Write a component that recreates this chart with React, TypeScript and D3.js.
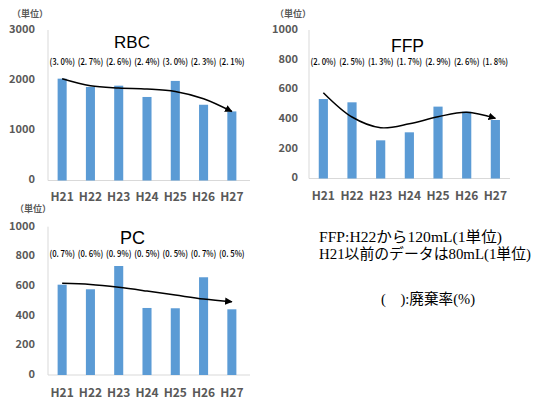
import React from "react";
import * as d3 from "d3";

const years = ["H21", "H22", "H23", "H24", "H25", "H26", "H27"];

const rbcUnits = [2030, 1865, 1890, 1665, 1985, 1510, 1377];
const rbcRates = ["(3. 0%)", "(2. 7%)", "(2. 6%)", "(2. 4%)", "(3. 0%)", "(2. 3%)", "(2. 1%)"];
const rbcTrend = [2030, 1890, 1845, 1825, 1775, 1630, 1375];
const rbcTicks = [0, 1000, 2000, 3000];

const ffpUnits = [535, 513, 257, 311, 484, 450, 394];
const ffpRates = ["(2. 0%)", "(2. 5%)", "(1. 3%)", "(1. 7%)", "(2. 9%)", "(2. 6%)", "(1. 8%)"];
const ffpTrend = [578, 414, 342, 368, 416, 446, 405];
const ffpTicks = [0, 200, 400, 600, 800, 1000];

const pcUnits = [609, 578, 735, 452, 450, 659, 443];
const pcRates = ["(0. 7%)", "(0. 6%)", "(0. 9%)", "(0. 5%)", "(0. 5%)", "(0. 7%)", "(0. 5%)"];
const pcTrend = [618, 610, 591, 566, 539, 512, 494];
const pcTicks = [0, 200, 400, 600, 800, 1000];

const noteLines = ["FFP:H22から120mL(1単位)", "H21以前のデータは80mL(1単位)"];
const noteWidths = [183, 212];
const rateNote = "(\u3000):廃棄率(%)";

const BAR = "#5B9BD5";
const AXIS = "#D9D9D9";
const TICK = "#595959";
const JP = "'Noto Sans CJK JP', 'Noto Sans', sans-serif";
const SANS = "'Liberation Sans', Arial, sans-serif";
const NOTE = "'Liberation Serif', 'Noto Sans CJK JP', serif";

interface PanelProps {
  id: string;
  title: string;
  units: number[];
  rates: string[];
  trend: number[];
  ticks: number[];
  x0: number;
  x1: number;
  axisRight: number;
  yTop: number;
  yBottom: number;
  tickEnd: number;
  titleX: number;
  titleY: number;
  titleSize: number;
  rateY: number;
  labelY: number;
  unitX: number;
  unitY: number;
}

function Panel(p: PanelProps) {
  const x = d3
    .scaleBand<string>()
    .domain(years)
    .range([p.x0, p.x1])
    .paddingInner(0.68)
    .paddingOuter(0.34);
  const y = d3
    .scaleLinear()
    .domain([0, p.ticks[p.ticks.length - 1]])
    .range([p.yBottom, p.yTop]);
  const cx = (d: string) => (x(d) as number) + x.bandwidth() / 2;
  const line = d3
    .line<number>()
    .x((_, i) => cx(years[i]))
    .y((v) => y(v))
    .curve(d3.curveCatmullRom.alpha(0.5));
  const left = p.x0;

  return (
    <g>
      <text x={p.unitX} y={p.unitY} fontFamily={JP} fontSize={9} fontWeight="bold" fill={TICK} dominantBaseline="middle">
        （単位）
      </text>
      <line x1={left} x2={left} y1={p.yTop} y2={p.yBottom} stroke={AXIS} strokeWidth={1} />
      <line x1={left} x2={p.axisRight} y1={p.yBottom} y2={p.yBottom} stroke={AXIS} strokeWidth={1} />
      {p.ticks.map((t) => (
        <text
          key={t}
          x={p.tickEnd}
          y={y(t)}
          textAnchor="end"
          dominantBaseline="middle"
          fontFamily={JP}
          fontSize={11}
          fontWeight="bold"
          fill={TICK}
        >
          {t}
        </text>
      ))}
      {years.map((yr, i) => (
        <rect
          key={yr}
          x={x(yr)}
          y={y(p.units[i])}
          width={x.bandwidth()}
          height={p.yBottom - y(p.units[i])}
          fill={BAR}
        />
      ))}
      {years.map((yr) => (
        <text
          key={yr}
          x={cx(yr)}
          y={p.labelY}
          textAnchor="middle"
          fontFamily={JP}
          fontSize={12}
          fontWeight="bold"
          fill={TICK}
        >
          {yr}
        </text>
      ))}
      <text x={p.titleX} y={p.titleY} textAnchor="middle" fontFamily={SANS} fontSize={p.titleSize} fill="#000">
        {p.title}
      </text>
      {years.map((yr, i) => (
        <text
          key={yr}
          x={cx(yr)}
          y={p.rateY}
          textAnchor="middle"
          fontFamily={JP}
          fontSize={9}
          fontWeight={500}
          fill="#000"
          textLength={25.5}
          lengthAdjust="spacingAndGlyphs"
        >
          {p.rates[i]}
        </text>
      ))}
      <path
        d={line(p.trend) ?? ""}
        fill="none"
        stroke="#000"
        strokeWidth={1.5}
        markerEnd={`url(#arrow-${p.id})`}
      />
      <defs>
        <marker
          id={`arrow-${p.id}`}
          viewBox="0 0 10 10"
          refX={9}
          refY={5}
          markerWidth={5}
          markerHeight={5}
          orient="auto"
          markerUnits="strokeWidth"
        >
          <path d="M0,0 L10,5 L0,10 z" fill="#000" />
        </marker>
      </defs>
    </g>
  );
}

export default function App() {
  return (
    <svg
      width={541}
      height={399}
      viewBox="0 0 541 399"
      style={{ position: "absolute", left: 0, top: 0, background: "#fff" }}
    >
      <rect width={541} height={399} fill="#fff" />
      <Panel
        id="rbc"
        title="RBC"
        units={rbcUnits}
        rates={rbcRates}
        trend={rbcTrend}
        ticks={rbcTicks}
        x0={48}
        x1={246}
        axisRight={250}
        yTop={30}
        yBottom={180.5}
        tickEnd={35}
        titleX={132}
        titleY={48}
        titleSize={17}
        rateY={64.5}
        labelY={201}
        unitX={12}
        unitY={15}
      />
      <Panel
        id="ffp"
        title="FFP"
        units={ffpUnits}
        rates={ffpRates}
        trend={ffpTrend}
        ticks={ffpTicks}
        x0={309}
        x1={509.7}
        axisRight={510}
        yTop={30}
        yBottom={178.5}
        tickEnd={298}
        titleX={407.5}
        titleY={51.5}
        titleSize={17.5}
        rateY={65}
        labelY={199.5}
        unitX={275}
        unitY={15}
      />
      <Panel
        id="pc"
        title="PC"
        units={pcUnits}
        rates={pcRates}
        trend={pcTrend}
        ticks={pcTicks}
        x0={48}
        x1={246}
        axisRight={250}
        yTop={226.7}
        yBottom={375}
        tickEnd={35}
        titleX={132.5}
        titleY={244}
        titleSize={18}
        rateY={256.5}
        labelY={397}
        unitX={15}
        unitY={210}
      />
      {noteLines.map((t, i) => (
        <text
          key={t}
          x={319}
          y={242 + i * 16.5}
          fontFamily={NOTE}
          fontSize={14.5}
          fill="#000"
          textLength={noteWidths[i]}
          lengthAdjust="spacingAndGlyphs"
        >
          {t}
        </text>
      ))}
      <text
        x={381}
        y={304}
        fontFamily={NOTE}
        fontSize={14.5}
        fill="#000"
        textLength={94}
        lengthAdjust="spacingAndGlyphs"
      >
        {rateNote}
      </text>
    </svg>
  );
}
